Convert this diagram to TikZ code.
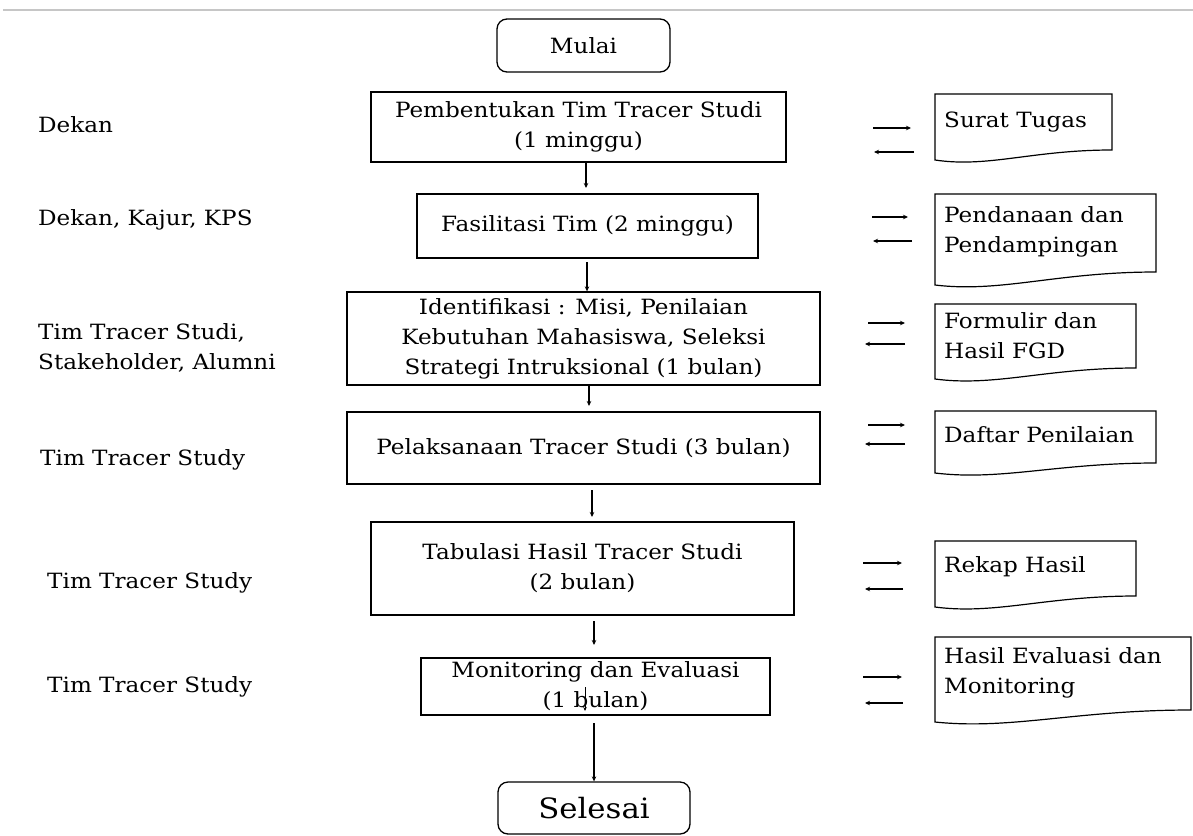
\documentclass[tikz,border=0pt]{standalone}
\usepackage{fontspec}
\setmainfont[FakeStretch=1.1]{DejaVu Serif}
\usetikzlibrary{arrows.meta}
\tikzset{
  base/.style={font=\fontsize{21}{30}\selectfont},
  procbox/.style={base, draw, line width=1.3pt, inner sep=0pt, align=center},
  termbox/.style={base, draw, line width=1.3pt, rounded corners=10pt, inner sep=0pt},
  lbl/.style={base, anchor=west, inner sep=0pt, align=left},
  doctext/.style={base, anchor=west, inner sep=0pt, align=left},
  arr/.style={line width=1.2pt, -{Stealth[length=5pt,width=4.5pt]}},
  docline/.style={line width=1.2pt}
}
\newcommand\mydoc[5]{% left, top, right, right-bottom, left-bottom
  \draw[docline] (#1,#2) -- (#3,#2) -- (#3,#4)
    .. controls ({#3-0.45*(#3-#1)},#4) and ({#1+0.3*(#3-#1)},{#5+8}) .. (#1,#5) -- cycle;}
\begin{document}
\begin{tikzpicture}[x=1pt,y=-1pt]
\useasboundingbox (0,0) rectangle (1193,835);
\draw[gray!45, line width=1.5pt] (3,10) -- (1193,10);

% terminals
\node[termbox, minimum width=173pt, minimum height=53pt] (start) at (583.5,45.5) {Mulai};
\node[termbox, minimum width=192pt, minimum height=52pt, font=\fontsize{28}{30}\selectfont] (end) at (594,808) {Selesai};

% process boxes
\node[procbox, minimum width=415pt, minimum height=70pt] (b1) at (578.5,127) {Pembentukan Tim Tracer Studi\\(1 minggu)};
\node[procbox, minimum width=341pt, minimum height=64pt] (b2) at (587.5,226) {Fasilitasi Tim (2 minggu)};
\node[procbox, minimum width=473pt, minimum height=93pt] (b3) at (583.5,338.5) {Identifikasi : Misi, Penilaian\\Kebutuhan Mahasiswa, Seleksi\\Strategi Intruksional (1 bulan)};
\node[procbox, minimum width=473pt, minimum height=72pt] (b4) at (583.5,448) {Pelaksanaan Tracer Studi (3 bulan)};
\node[procbox, minimum width=423pt, minimum height=93pt] (b5) at (582.5,568.5) {Tabulasi Hasil Tracer Studi\\(2 bulan)};
\node[procbox, minimum width=349pt, minimum height=57pt] (b6) at (595.5,686.5) {Monitoring dan Evaluasi\\(1 bulan)};

% vertical arrows
\draw[arr] (b1.south -| 586,0) -- (586,188);
\draw[arr] (587,262) -- (b3.north -| 587,0);
\draw[arr] (b3.south -| 589,0) -- (589,406);
\draw[arr] (592,490) -- (592,517);
\draw[arr] (594,621) -- (594,645);
\draw[arr] (594,723) -- (end.north -| 594,0);
\draw[line width=0.9pt, -{Stealth[length=4pt,width=3.5pt]}] (585,687) -- (585,711);

% left labels
\node[lbl] (l1) at (38,125) {Dekan};
\node[lbl] (l2) at (38,220) {Dekan, Kajur, KPS};
\node[lbl] (l3) at (38,347.5) {Tim Tracer Studi,\\Stakeholder, Alumni};
\node[lbl] (l4) at (40,460) {Tim Tracer Study};
\node[lbl] (l5) at (47,583) {Tim Tracer Study};
\node[lbl] (l6) at (47,687) {Tim Tracer Study};

% documents
\mydoc{935}{94}{1112}{150}{160}
\node[doctext] (d1) at (944,122) {Surat Tugas};
\mydoc{935}{194}{1156}{272}{285}
\node[doctext] (d2) at (944,232) {Pendanaan dan\\Pendampingan};
\mydoc{935}{304}{1136}{368}{379}
\node[doctext] (d3) at (944,336) {Formulir dan\\Hasil FGD};
\mydoc{935}{411}{1156}{463}{473}
\node[doctext] (d4) at (944,435) {Daftar Penilaian};
\mydoc{935}{541}{1136}{596}{607}
\node[doctext] (d5) at (944,567) {Rekap Hasil};
\mydoc{935}{637}{1191}{710}{722}
\node[doctext] (d6) at (944,673) {Hasil Evaluasi dan\\Monitoring};

% side arrows
\draw[arr] (873,128) -- (911,128);
\draw[arr] (914,152) -- (874,152);
\draw[arr] (872,217) -- (908,217);
\draw[arr] (912,241) -- (873,241);
\draw[arr] (868,323) -- (905,323);
\draw[arr] (905,344) -- (865,344);
\draw[arr] (868,425) -- (905,425);
\draw[arr] (905,444) -- (865,444);
\draw[arr] (863,563) -- (902,563);
\draw[arr] (903,589) -- (865,589);
\draw[arr] (863,677) -- (902,677);
\draw[arr] (903,703) -- (865,703);
\end{tikzpicture}
\end{document}
